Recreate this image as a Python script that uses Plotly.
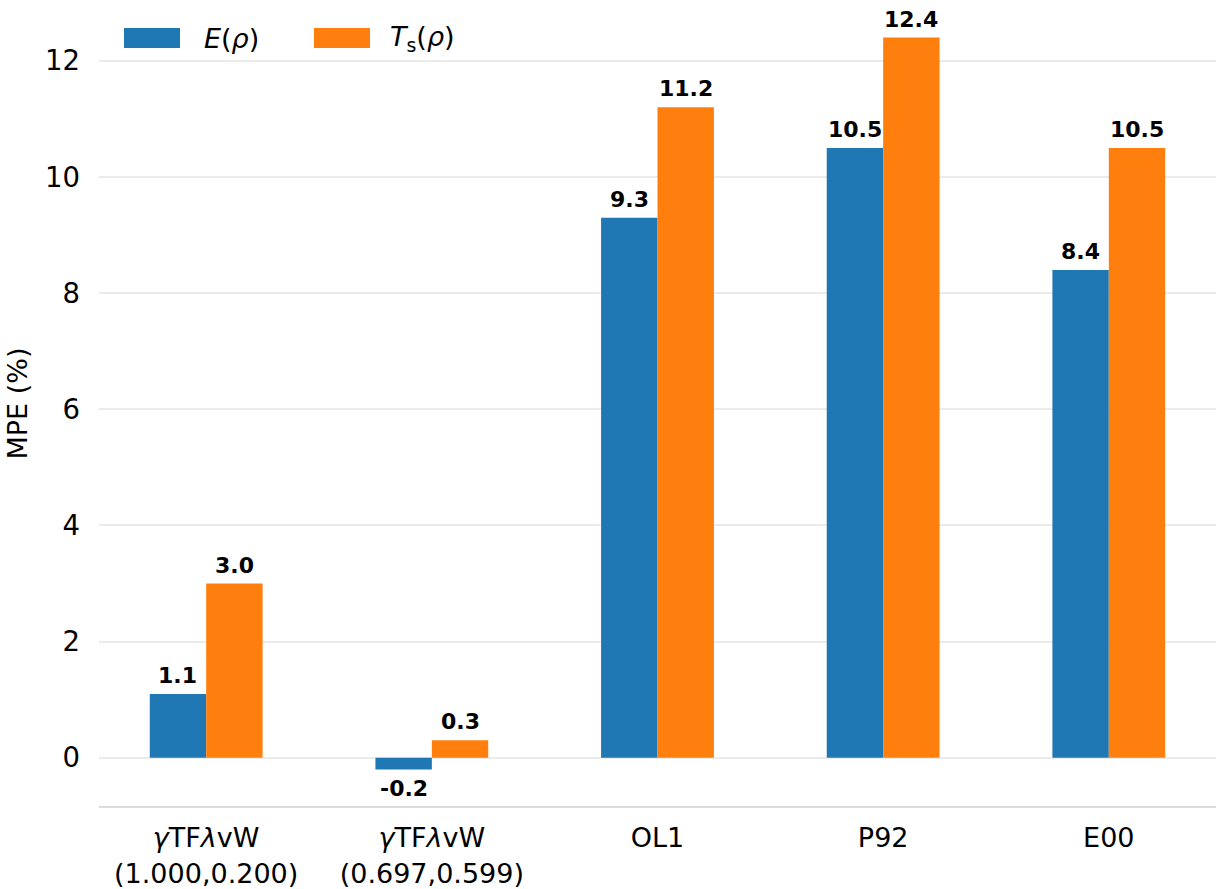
import plotly.graph_objects as go

# Mean percentage error of each functional, for energy and kinetic energy
categories = ["<i>γ</i>TF<i>λ</i>vW<br>(1.000,0.200)", "<i>γ</i>TF<i>λ</i>vW<br>(0.697,0.599)",
              "OL1", "P92", "E00"]
mpe_energy = [1.1, -0.2, 9.3, 10.5, 8.4]
mpe_kinetic = [3.0, 0.3, 11.2, 12.4, 10.5]
y_ticks = [0, 2, 4, 6, 8, 10, 12]

series = [
    ("<i>E</i>(<i>ρ</i>)", mpe_energy, "#1f77b4"),
    ("<i>T</i><sub>s</sub>(<i>ρ</i>)", mpe_kinetic, "#ff7f0e"),
]

FONT = "DejaVu Sans"
BAR_W = 0.25

fig = go.Figure()
for name, vals, color in series:
    fig.add_trace(go.Bar(
        x=categories, y=vals, name=name,
        marker=dict(color=color, line=dict(width=0)),
        showlegend=False,
    ))

# value labels above (or below, for negatives) each bar
annotations = []
for k, (name, vals, color) in enumerate(series):
    offset = (k - 0.5) * BAR_W
    for i, v in enumerate(vals):
        annotations.append(dict(
            x=i + offset, y=v, xref="x", yref="y",
            text=f"<b>{v:.1f}</b>", showarrow=False,
            font=dict(family=FONT, size=22, color="black"),
            yanchor="bottom" if v >= 0 else "top",
            yshift=4 if v >= 0 else -5,
        ))

# legend drawn as wide patches with text, upper left
legend_items = [(124, 180, 202), (314, 370, 388)]
L, R, T, B = 99, 1216, 1, 806
def px_x(p):
    return (p - L) / (R - L)
def px_y(p):
    return (B - p) / (B - T)

shapes = []
for (x0, x1, tx), (name, vals, color) in zip(legend_items, series):
    shapes.append(dict(type="rect", xref="paper", yref="paper",
                       x0=px_x(x0), x1=px_x(x1), y0=px_y(48), y1=px_y(28),
                       fillcolor=color, line=dict(width=0)))
    annotations.append(dict(x=px_x(tx), y=px_y(38), xref="paper", yref="paper",
                            text=name, showarrow=False, xanchor="left", yanchor="middle",
                            font=dict(family=FONT, size=27, color="black")))

fig.update_layout(
    width=1225, height=889,
    margin=dict(l=L, r=1225 - R, t=T, b=889 - B),
    paper_bgcolor="white", plot_bgcolor="white",
    barmode="group", bargap=0.5, bargroupgap=0,
    font=dict(family=FONT, size=27, color="black"),
    annotations=annotations, shapes=shapes,
    showlegend=False,
)
fig.update_xaxes(
    range=[-0.475, 4.475], showgrid=False, ticks="", automargin=False,
    showline=True, linecolor="#dcdcdc", linewidth=2,
    tickfont=dict(family=FONT, size=27, color="black"),
    ticklabelstandoff=7,
)
fig.update_yaxes(
    range=[-0.83, 13.03], tickvals=y_ticks, ticks="", automargin=False,
    showgrid=True, gridcolor="#ebebeb", gridwidth=2,
    zeroline=True, zerolinecolor="#ebebeb", zerolinewidth=2,
    showline=False,
    tickfont=dict(family=FONT, size=27.5, color="black"),
    ticklabelstandoff=18,
    title=dict(text="MPE (%)", font=dict(family=FONT, size=27, color="black"), standoff=9),
)

fig.write_html("out.html")
